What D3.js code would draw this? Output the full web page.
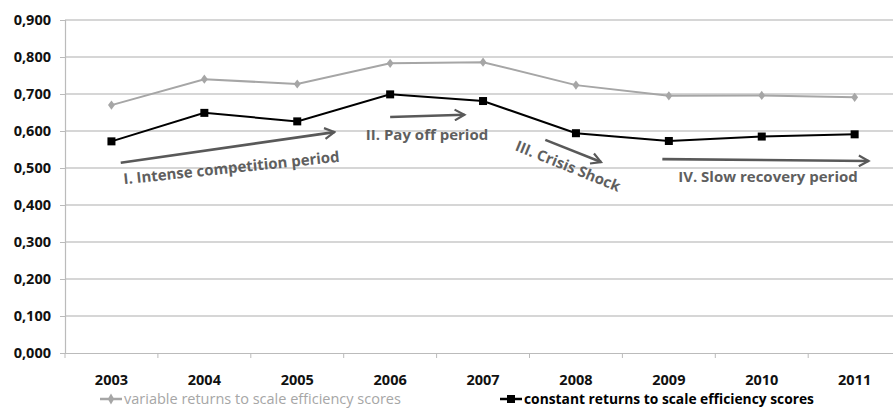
<!DOCTYPE html>
<html>
<head>
<meta charset="utf-8">
<script src="https://cdn.jsdelivr.net/npm/d3@7"></script>
<style>
  body { margin: 0; background: #fff; }
  text { font-family: "Open Sans", sans-serif; }
</style>
</head>
<body>
<svg id="plot" width="893" height="409"></svg>
<script>
// data
let years = ["2003", "2004", "2005", "2006", "2007", "2008", "2009", "2010", "2011"];
let vrs = [0.670, 0.740, 0.727, 0.783, 0.786, 0.724, 0.695, 0.696, 0.691];
let crs = [0.572, 0.649, 0.626, 0.699, 0.681, 0.594, 0.573, 0.585, 0.591];
let yTicks = [0, 0.1, 0.2, 0.3, 0.4, 0.5, 0.6, 0.7, 0.8, 0.9];
let seriesNames = ["variable returns to scale efficiency scores", "constant returns to scale efficiency scores"];
// annotation arrows: [year index, value] from -> to
let phases = [
  {label: "I. Intense competition period", from: [0.1, 0.514], to: [2.4, 0.597]},
  {label: "II. Pay off period", from: [3.0, 0.638], to: [3.8, 0.644]},
  {label: "III. Crisis Shock", from: [4.67, 0.576], to: [5.27, 0.516]},
  {label: "IV. Slow recovery period", from: [5.93, 0.524], to: [8.15, 0.519]}
];

let svg = d3.select("#plot");
let margin_left = 65, margin_top = 20, plot_bottom = 353;
let band = 92.9;

let x_scale = d3.scaleBand(years, [margin_left, margin_left + band * years.length]);
let y_scale = d3.scaleLinear([0, 0.9], [plot_bottom, margin_top]);
let xc = (i) => x_scale(years[0]) + band * (i + 0.5);

// gridlines
svg.append("g").selectAll("line")
  .data(yTicks.slice(1))
  .join("line")
  .attr("x1", margin_left).attr("x2", 893)
  .attr("y1", d => y_scale(d)).attr("y2", d => y_scale(d))
  .attr("stroke", "#c8c8c8").attr("stroke-width", 1.5);

// y axis
let yAxis = d3.axisLeft(y_scale).tickValues(yTicks).tickSize(5).tickPadding(9)
  .tickFormat(d => d3.format(".3f")(d).replace(".", ","));
let y_ax = svg.append("g").attr("transform", `translate(${margin_left},0)`).call(yAxis);
y_ax.select(".domain").attr("stroke", "#bbb").attr("stroke-width", 1.2);
y_ax.selectAll(".tick line").attr("stroke", "#bbb");
y_ax.selectAll("text").attr("font-size", 14.5).attr("font-weight", "bold").attr("fill", "#111");

// x axis
let xAxis = d3.axisBottom(x_scale).tickSize(0).tickPadding(22);
let x_ax = svg.append("g").attr("transform", `translate(0,${plot_bottom})`).call(xAxis);
x_ax.select(".domain").attr("stroke", "#bbb").attr("stroke-width", 1.2);
x_ax.selectAll("text").attr("font-size", 14.5).attr("font-weight", "bold").attr("fill", "#111");
x_ax.selectAll(".sep").data(d3.range(years.length)).join("line")
  .attr("x1", i => margin_left + band * i).attr("x2", i => margin_left + band * i)
  .attr("y1", 0).attr("y2", 5).attr("stroke", "#bbb");

// lines
let line = d3.line().x((d, i) => xc(i)).y(d => y_scale(d));
svg.append("path").datum(vrs).attr("d", line)
  .attr("fill", "none").attr("stroke", "#a6a6a6").attr("stroke-width", 2);
svg.append("g").selectAll("path").data(vrs).join("path")
  .attr("d", d3.symbol(d3.symbolDiamond, 34))
  .attr("transform", (d, i) => `translate(${xc(i)},${y_scale(d)}) scale(1.1,0.85)`)
  .attr("fill", "#a6a6a6");
svg.append("path").datum(crs).attr("d", line)
  .attr("fill", "none").attr("stroke", "#000").attr("stroke-width", 2);
svg.append("g").selectAll("rect").data(crs).join("rect")
  .attr("x", (d, i) => xc(i) - 4).attr("y", d => y_scale(d) - 4)
  .attr("width", 8).attr("height", 8).attr("fill", "#000");

// arrows
svg.append("defs").append("marker")
  .attr("id", "arr").attr("viewBox", "0 0 12 12").attr("refX", 10).attr("refY", 6)
  .attr("markerWidth", 5).attr("markerHeight", 5).attr("orient", "auto")
  .append("path").attr("d", "M1,1 L10,6 L1,11").attr("fill", "none")
  .attr("stroke", "#595959").attr("stroke-width", 2);

let gArr = svg.append("g");
phases.forEach(p => {
  gArr.append("line")
    .attr("x1", xc(p.from[0])).attr("y1", y_scale(p.from[1]))
    .attr("x2", xc(p.to[0])).attr("y2", y_scale(p.to[1]))
    .attr("stroke", "#595959").attr("stroke-width", 2.6)
    .attr("marker-end", "url(#arr)");
});

// phase labels
let labelPos = [
  {x: 232, y: 173, rot: -6},
  {x: 427, y: 140, rot: 0},
  {x: 566, y: 171, rot: 22},
  {x: 768, y: 182, rot: 0}
];
svg.append("g").selectAll("text").data(phases).join("text")
  .attr("text-anchor", "middle")
  .attr("transform", (d, i) => `translate(${labelPos[i].x},${labelPos[i].y}) rotate(${labelPos[i].rot})`)
  .attr("font-size", 15).attr("font-weight", 700).attr("fill", "#5f5f5f")
  .text(d => d.label);

// legend
let legend = [
  {x: 100, color: "#a6a6a6", weight: "normal", size: 14.5, mark: "diamond"},
  {x: 500, color: "#000", weight: "bold", size: 13.8, mark: "square"}
];
let lg = svg.append("g").attr("transform", "translate(0,399)");
legend.forEach((l, i) => {
  lg.append("line").attr("x1", l.x).attr("x2", l.x + 22).attr("y1", 0).attr("y2", 0)
    .attr("stroke", l.color).attr("stroke-width", 2.5);
  if (l.mark == "diamond") {
    lg.append("path").attr("d", d3.symbol(d3.symbolDiamond, 34))
      .attr("transform", `translate(${l.x + 11},0)`).attr("fill", l.color);
  } else {
    lg.append("rect").attr("x", l.x + 7).attr("y", -4).attr("width", 8).attr("height", 8).attr("fill", l.color);
  }
  lg.append("text").attr("x", l.x + 24).attr("y", 5)
    .attr("font-size", l.size).attr("font-weight", l.weight).attr("fill", l.color)
    .text(seriesNames[i]);
});
</script>
</body>
</html>
